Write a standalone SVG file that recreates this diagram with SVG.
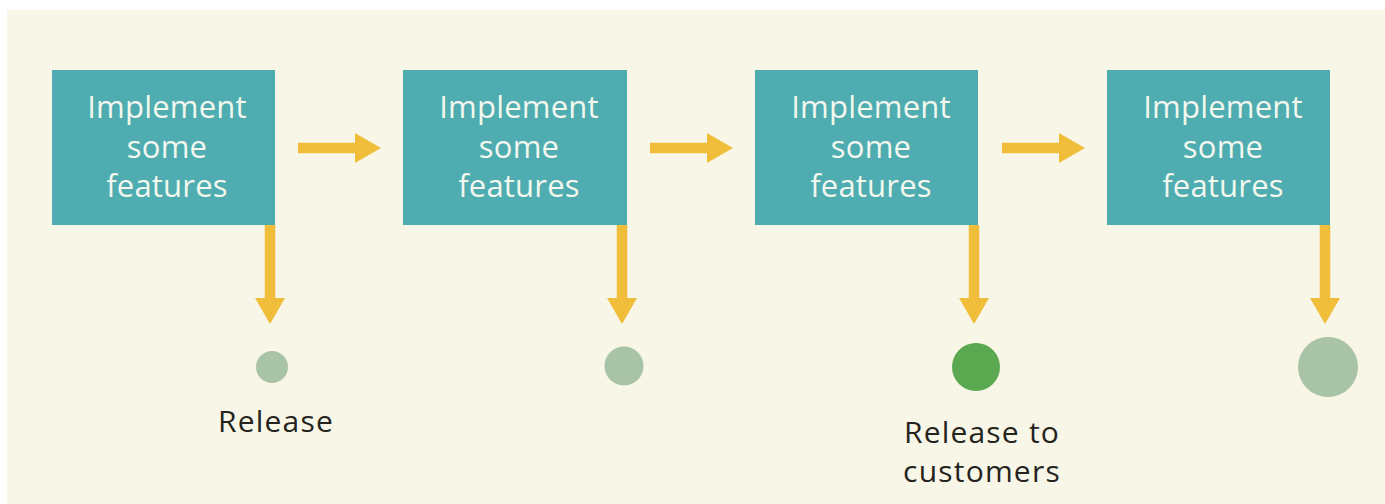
<svg xmlns="http://www.w3.org/2000/svg" width="1385" height="504" viewBox="0 0 1385 504">
  <style>
    .box { fill: #4fadb1; }
    .box-text { font-family: "Open Sans", "Liberation Sans", sans-serif; font-size: 31px; fill: #f3f7ee; text-anchor: middle; letter-spacing: 0.2px; }
    .label { font-family: "Open Sans", "Liberation Sans", sans-serif; font-size: 30px; fill: #24231d; text-anchor: middle; letter-spacing: 1.2px; }
    .flow { stroke: #f0be3b; stroke-width: 10.5; fill: none; marker-end: url(#head); }
    .dot { fill: #a9c3a7; }
    .dot-main { fill: #5aa84f; }
  </style>
  <defs>
    <marker id="head" markerUnits="userSpaceOnUse" markerWidth="26" markerHeight="30" refX="0" refY="15" orient="auto">
      <path d="M0,0 L26,15 L0,30 Z" fill="#f0be3b"/>
    </marker>
  </defs>

  <rect width="1385" height="504" fill="#ffffff"/>
  <rect x="7" y="10" width="1378" height="494" fill="#f8f6e7"/>

  <!-- connectors -->
  <g id="connectors">
    <line class="flow" x1="298" y1="148" x2="355" y2="148"/>
    <line class="flow" x1="650" y1="148" x2="707" y2="148"/>
    <line class="flow" x1="1002" y1="148" x2="1059" y2="148"/>
    <line class="flow" x1="270" y1="225" x2="270" y2="298"/>
    <line class="flow" x1="622" y1="225" x2="622" y2="298"/>
    <line class="flow" x1="974" y1="225" x2="974" y2="298"/>
    <line class="flow" x1="1325" y1="225" x2="1325" y2="298"/>
  </g>

  <!-- feature steps -->
  <g id="step1">
    <rect class="box" x="52" y="70" width="223" height="155"/>
    <text class="box-text" x="167" y="118">Implement</text>
    <text class="box-text" x="167" y="158">some</text>
    <text class="box-text" x="167" y="197">features</text>
  </g>
  <g id="step2">
    <rect class="box" x="403" y="70" width="224" height="155"/>
    <text class="box-text" x="519" y="118">Implement</text>
    <text class="box-text" x="519" y="158">some</text>
    <text class="box-text" x="519" y="197">features</text>
  </g>
  <g id="step3">
    <rect class="box" x="755" y="70" width="223" height="155"/>
    <text class="box-text" x="871" y="118">Implement</text>
    <text class="box-text" x="871" y="158">some</text>
    <text class="box-text" x="871" y="197">features</text>
  </g>
  <g id="step4">
    <rect class="box" x="1107" y="70" width="223" height="155"/>
    <text class="box-text" x="1223" y="118">Implement</text>
    <text class="box-text" x="1223" y="158">some</text>
    <text class="box-text" x="1223" y="197">features</text>
  </g>

  <!-- releases -->
  <g id="release1">
    <circle class="dot" cx="272" cy="367" r="16"/>
    <text class="label" x="276" y="432">Release</text>
  </g>
  <g id="release2">
    <circle class="dot" cx="624" cy="366" r="19.5"/>
  </g>
  <g id="release3">
    <circle class="dot-main" cx="976" cy="367" r="24"/>
    <text class="label" x="982" y="443">Release to</text>
    <text class="label" x="982" y="482">customers</text>
  </g>
  <g id="release4">
    <circle class="dot" cx="1328" cy="367" r="30"/>
  </g>
</svg>
